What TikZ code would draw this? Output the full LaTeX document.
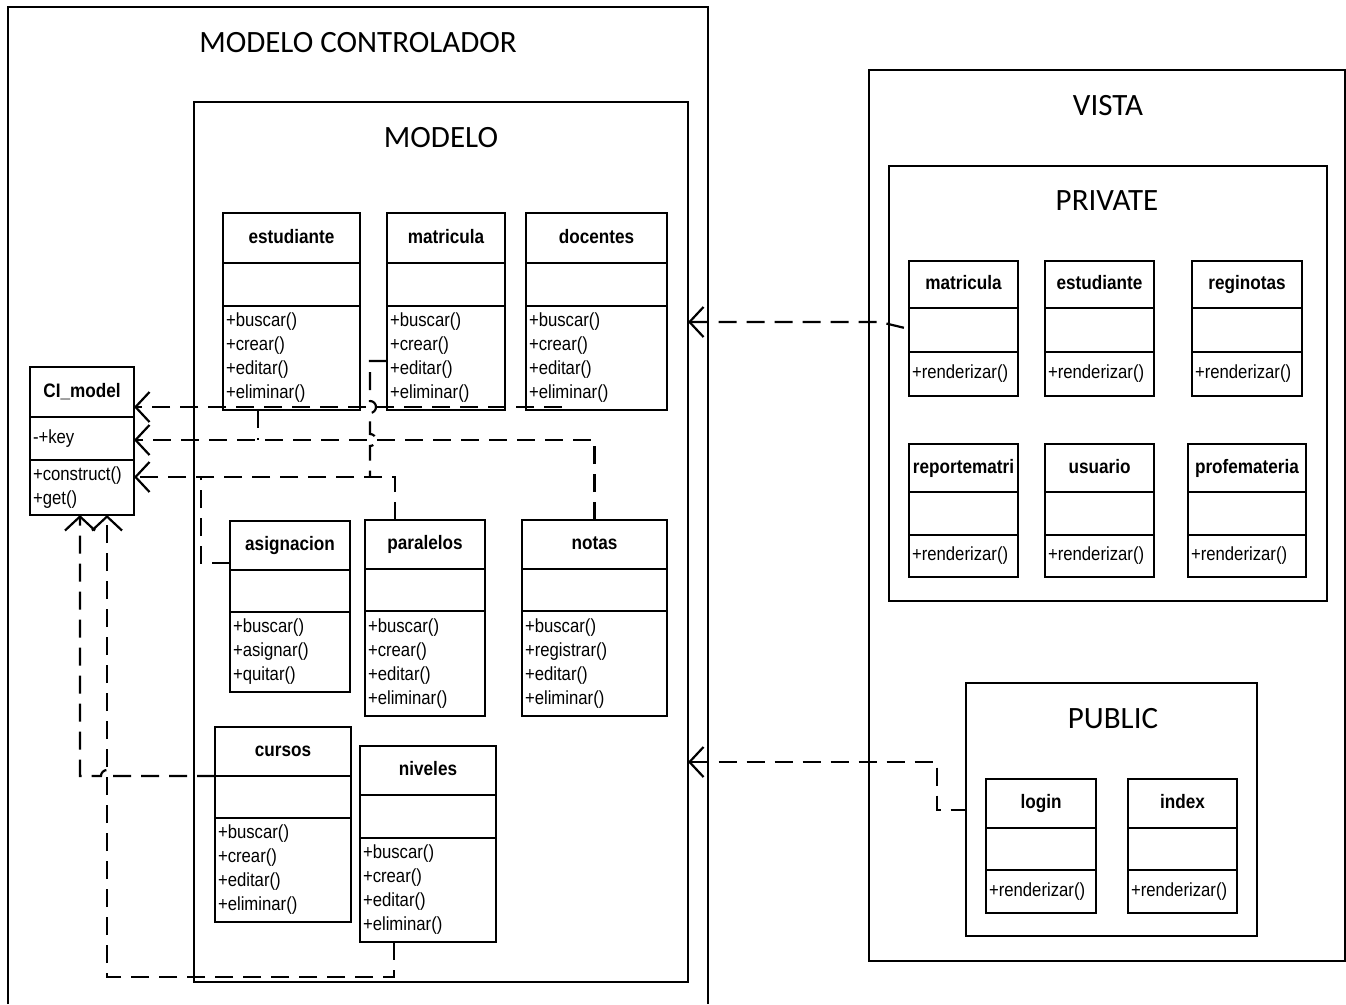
\documentclass[tikz,border=0pt]{standalone}
\usepackage{fontspec}
\setmainfont{Carlito}
\newfontfamily\narrowfont{Liberation Sans}[FakeStretch=0.88]
\usepackage{tikz}
\usetikzlibrary{arrows.meta,calc,positioning}

% id, top left, width, name, attributes, methods, heights of the three rows
\newcommand{\clase}[9]{%
  \node[cabecera, minimum width=#3pt, minimum height=#7pt, anchor=north west] (#1) at #2 {#4};
  \node[cuerpo, text width=#3pt-6pt, minimum height=#8pt, below=0pt of #1] (#1-a) {#5};
  \node[cuerpo, text width=#3pt-6pt, minimum height=#9pt, below=0pt of #1-a] (#1-m) {#6};
}
\newcommand{\crud}{+buscar()\\+crear()\\+editar()\\+eliminar()}

\begin{document}
\begin{tikzpicture}[
  x=1pt, y=-1pt,
  >={Straight Barb[length=14pt,width=30pt]},
  cabecera/.style={draw, line width=2pt, inner sep=0pt, outer sep=0pt,
    text height=14pt, text depth=4pt,
    font=\fontsize{19.5}{23}\selectfont\narrowfont\bfseries},
  cuerpo/.style={draw, line width=2pt, inner xsep=3pt, inner ysep=0pt, outer sep=0pt,
    align=left, font=\fontsize{19}{24}\selectfont\narrowfont},
  paquete/.style={draw, line width=2pt, inner sep=0pt, outer sep=0pt, anchor=north west},
  titulo/.style={inner sep=0pt, font=\fontsize{31}{36}\selectfont},
  dependencia/.style={line width=2.2pt, dash pattern=on 18pt off 10pt}
]
  \useasboundingbox (0,0) rectangle (1346,1004);

  % Packages
  \draw[line width=2pt] (8,1004) |- (708,7) -- (708,1004);
  \node[paquete, minimum width=494pt, minimum height=880pt] (modelo) at (194,102) {};
  \node[paquete, minimum width=476pt, minimum height=891pt] (vista) at (869,70) {};
  \node[paquete, minimum width=438pt, minimum height=435pt] (private) at (889,166) {};
  \node[paquete, minimum width=291pt, minimum height=253pt] (public) at (966,683) {};

  \node[titulo] (mc-tit) at (358,43) {MODELO CONTROLADOR};
  \node[titulo] (modelo-tit) at (441,138) {MODELO};
  \node[titulo] (vista-tit) at (1108,106) {VISTA};
  \node[titulo] (private-tit) at (1107,201) {PRIVATE};
  \node[titulo] (public-tit) at (1113,719) {PUBLIC};

  % Controller base class
  \clase{ci}{(30,367)}{104}{CI\_model}{-+key}{+construct()\\+get()}{50}{43}{55}

  % Model classes
  \clase{est}{(223,213)}{137}{estudiante}{}{\crud}{50}{43}{104}
  \clase{mat}{(387,213)}{118}{matricula}{}{\crud}{50}{43}{104}
  \clase{doc}{(526,213)}{141}{docentes}{}{\crud}{50}{43}{104}
  \clase{asig}{(230,521)}{120}{asignacion}{}{+buscar()\\+asignar()\\+quitar()}{49}{42}{80}
  \clase{par}{(365,520)}{120}{paralelos}{}{\crud}{49}{42}{105}
  \clase{notas}{(522,520)}{145}{notas}{}{+buscar()\\+registrar()\\+editar()\\+eliminar()}{49}{42}{105}
  \clase{cur}{(215,727)}{136}{cursos}{}{\crud}{49}{42}{104}
  \clase{niv}{(360,746)}{136}{niveles}{}{\crud}{49}{43}{104}

  % View classes
  \clase{pmat}{(909,261)}{109}{matricula}{}{+renderizar()}{47}{44}{44}
  \clase{pest}{(1045,261)}{109}{estudiante}{}{+renderizar()}{47}{44}{44}
  \clase{preg}{(1192,261)}{110}{reginotas}{}{+renderizar()}{47}{44}{44}
  \clase{prep}{(909,444)}{109}{reportematri}{}{+renderizar()}{48}{43}{42}
  \clase{pusu}{(1045,444)}{109}{usuario}{}{+renderizar()}{48}{43}{42}
  \clase{pprof}{(1188,444)}{118}{profemateria}{}{+renderizar()}{48}{43}{42}
  \clase{login}{(986,779)}{110}{login}{}{+renderizar()}{49}{42}{43}
  \clase{index}{(1128,779)}{109}{index}{}{+renderizar()}{49}{42}{43}

  % Dependencies on CI_model
  \draw[dependencia, ->] ($(doc-m.south west)+(36,-3)$) -- ($(ci.south east)+(0,-10)$);
  \draw[dependencia, ->] (notas.north) |- ($(ci-a.north east)+(0,23)$);
  \draw[dependencia] ($(est-m.south west)+(35,0)$) -- ++(0,30);
  \draw[dependencia, ->] ($(par.north west)+(30,0)$) |- ($(ci-m.north east)+(0,17)$);
  \draw[dependencia] ($(mat-m.north west)+(0,55)$) -- ++(-17,0) -- ++(0,40)
    arc[start angle=90, end angle=-90, radius=6pt] -- ++(0,21)
    arc[start angle=90, end angle=-90, radius=6pt] -- ++(0,31);
  \draw[dependencia] ($(asig.south west)+(0,-7)$) -| ($(ci-m.north east)+(67,17)$);
  \draw[dependencia, ->] (cur.south west) -- ++(-102,0)
    arc[start angle=0, end angle=180, radius=6pt] -| ($(ci-m.south west)+(50,0)$);
  \draw[dependencia, ->] ($(niv-m.south west)+(34,0)$) -- ++(0,35) -| ($(ci-m.south west)+(77,0)$);

  % Views depend on the model
  \draw[dependencia, <-] ($(modelo.east |- pmat-a.north west)+(0,14)$)
    -- ($(pmat-a.north west)+(-29,14)$) -- ($(pmat-a.north west)+(0,21)$);
  \draw[dependencia, <-] ($(modelo.east |- public.north west)+(0,79)$)
    -| ($(public.north west)+(-29,127)$) -- ($(public.north west)+(0,127)$);
\end{tikzpicture}
\end{document}
